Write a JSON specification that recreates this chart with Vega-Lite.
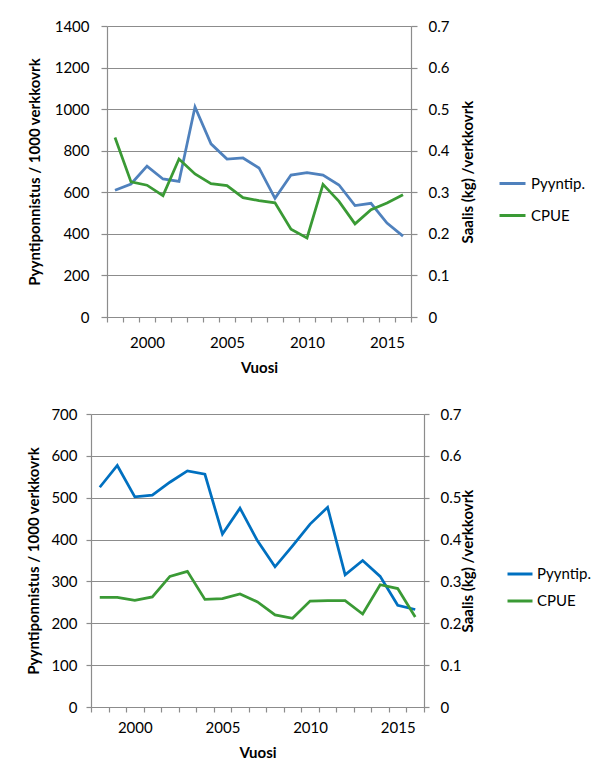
{
  "$schema": "https://vega.github.io/schema/vega-lite/v6.json",
  "background": "white",
  "padding": {"left": 26, "top": 19, "right": 0, "bottom": 0},
  "config": {
    "font": "Lato",
    "view": {"stroke": null},
    "axis": {
      "labelFont": "Lato", "titleFont": "Lato",
      "labelColor": "#000", "titleColor": "#000",
      "labelFontSize": 15, "titleFontSize": 15, "titleFontWeight": "bold",
      "domainColor": "#8c8c8c", "tickColor": "#8c8c8c", "gridColor": "#8c8c8c",
      "domainWidth": 1.2, "tickWidth": 1.2, "gridWidth": 1.2
    },
    "legend": {"labelFont": "Lato", "labelFontSize": 15, "labelColor": "#000"}
  },
  "datasets": {
    "top": [
      {"year": 1998, "pyyntip": 610, "cpue": 0.432},
      {"year": 1999, "pyyntip": 640, "cpue": 0.325},
      {"year": 2000, "pyyntip": 726, "cpue": 0.317},
      {"year": 2001, "pyyntip": 664, "cpue": 0.292},
      {"year": 2002, "pyyntip": 652, "cpue": 0.380},
      {"year": 2003, "pyyntip": 1010, "cpue": 0.344},
      {"year": 2004, "pyyntip": 833, "cpue": 0.321},
      {"year": 2005, "pyyntip": 760, "cpue": 0.316},
      {"year": 2006, "pyyntip": 765, "cpue": 0.287},
      {"year": 2007, "pyyntip": 717, "cpue": 0.280},
      {"year": 2008, "pyyntip": 571, "cpue": 0.2745},
      {"year": 2009, "pyyntip": 683, "cpue": 0.211},
      {"year": 2010, "pyyntip": 695, "cpue": 0.190},
      {"year": 2011, "pyyntip": 683, "cpue": 0.319},
      {"year": 2012, "pyyntip": 635, "cpue": 0.278},
      {"year": 2013, "pyyntip": 536, "cpue": 0.224},
      {"year": 2014, "pyyntip": 547, "cpue": 0.258},
      {"year": 2015, "pyyntip": 452, "cpue": 0.274},
      {"year": 2016, "pyyntip": 389, "cpue": 0.294}
    ],
    "bottom": [
      {"year": 1998, "pyyntip": 525, "cpue": 0.262},
      {"year": 1999, "pyyntip": 577, "cpue": 0.262},
      {"year": 2000, "pyyntip": 502, "cpue": 0.255},
      {"year": 2001, "pyyntip": 506, "cpue": 0.263},
      {"year": 2002, "pyyntip": 537, "cpue": 0.312},
      {"year": 2003, "pyyntip": 564, "cpue": 0.324},
      {"year": 2004, "pyyntip": 556, "cpue": 0.257},
      {"year": 2005, "pyyntip": 413, "cpue": 0.259},
      {"year": 2006, "pyyntip": 475, "cpue": 0.270},
      {"year": 2007, "pyyntip": 397, "cpue": 0.251},
      {"year": 2008, "pyyntip": 335, "cpue": 0.220},
      {"year": 2009, "pyyntip": 385, "cpue": 0.212},
      {"year": 2010, "pyyntip": 437, "cpue": 0.253},
      {"year": 2011, "pyyntip": 477, "cpue": 0.254},
      {"year": 2012, "pyyntip": 316, "cpue": 0.254},
      {"year": 2013, "pyyntip": 350, "cpue": 0.222},
      {"year": 2014, "pyyntip": 312, "cpue": 0.292},
      {"year": 2015, "pyyntip": 243, "cpue": 0.283},
      {"year": 2016, "pyyntip": 233, "cpue": 0.215}
    ]
  },
  "spacing": 32,
  "vconcat": [
    {
      "width": 304,
      "height": 291,
      "data": {"name": "top"},
      "encoding": {
        "x": {
          "field": "year", "type": "ordinal", "bandPosition": 0.5,
          "scale": {"type": "band", "paddingInner": 0, "paddingOuter": 0},
          "axis": {
            "title": "Vuosi", "labelAngle": 0, "tickBand": "extent", "tickSize": 5,
            "labelExpr": "datum.value % 5 === 0 ? datum.label : ''",
            "labelPadding": 13, "titlePadding": 10
          }
        }
      },
      "layer": [
        {
          "mark": {"type": "line", "strokeWidth": 2.75},
          "encoding": {
            "y": {
              "field": "pyyntip", "type": "quantitative",
              "scale": {"domain": [0, 1400]},
              "axis": {
                "title": "Pyyntiponnistus / 1000 verkkovrk",
                "values": [0, 200, 400, 600, 800, 1000, 1200, 1400],
                "format": "d",
                "grid": true, "tickSize": 6, "labelPadding": 12, "titlePadding": 12
              }
            },
            "color": {
              "datum": "Pyyntip.", "type": "nominal",
              "scale": {"domain": ["Pyyntip.", "CPUE"], "range": ["#4F81BD", "#3A9A35"]},
              "legend": {
                "title": null, "orient": "none", "legendX": 391, "legendY": 143,
                "symbolType": "stroke", "symbolSize": 676, "symbolStrokeWidth": 3,
                "labelOffset": 4, "rowPadding": 9
              }
            }
          }
        },
        {
          "mark": {"type": "line", "strokeWidth": 2.75},
          "encoding": {
            "y": {
              "field": "cpue", "type": "quantitative",
              "scale": {"domain": [0, 0.7]},
              "axis": {
                "orient": "right",
                "title": "Saalis (kg) /verkkovrk",
                "values": [0, 0.1, 0.2, 0.3, 0.4, 0.5, 0.6, 0.7],
                "format": ".1~f", "grid": false, "tickSize": 6, "labelPadding": 11,
                "titleAngle": 270, "titleBaseline": "top", "titleX": 49
              }
            },
            "color": {"datum": "CPUE", "type": "nominal"}
          }
        }
      ],
      "resolve": {"scale": {"y": "independent"}}
    },
    {
      "width": 317,
      "height": 293,
      "data": {"name": "bottom"},
      "encoding": {
        "x": {
          "field": "year", "type": "ordinal", "bandPosition": 0.5,
          "scale": {"type": "band", "paddingInner": 0, "paddingOuter": 0, "range": [-16, 317]},
          "axis": {
            "title": "Vuosi", "labelAngle": 0, "tickBand": "extent", "tickSize": 5,
            "labelExpr": "datum.value % 5 === 0 ? datum.label : ''",
            "labelPadding": 8, "titlePadding": 10
          }
        }
      },
      "layer": [
        {
          "mark": {"type": "line", "strokeWidth": 2.75},
          "encoding": {
            "y": {
              "field": "pyyntip", "type": "quantitative",
              "scale": {"domain": [0, 700]},
              "axis": {
                "title": "Pyyntiponnistus / 1000 verkkovrk",
                "values": [0, 100, 200, 300, 400, 500, 600, 700],
                "format": "d", "offset": 16,
                "grid": true, "tickSize": 5, "labelPadding": 9, "titlePadding": 9
              }
            },
            "color": {
              "datum": "Pyyntip.", "type": "nominal",
              "scale": {"domain": ["Pyyntip.", "CPUE"], "range": ["#0070C0", "#3A9A35"]},
              "legend": {
                "title": null, "orient": "none", "legendX": 399, "legendY": 146,
                "symbolType": "stroke", "symbolSize": 625, "symbolStrokeWidth": 3,
                "labelOffset": 3, "rowPadding": 5
              }
            }
          }
        },
        {
          "mark": {"type": "line", "strokeWidth": 2.75},
          "encoding": {
            "y": {
              "field": "cpue", "type": "quantitative",
              "scale": {"domain": [0, 0.7]},
              "axis": {
                "orient": "right",
                "title": "Saalis (kg) /verkkovrk",
                "values": [0, 0.1, 0.2, 0.3, 0.4, 0.5, 0.6, 0.7],
                "format": ".1~f", "grid": false, "tickSize": 5, "labelPadding": 11,
                "titleAngle": 270, "titleBaseline": "top", "titleX": 36
              }
            },
            "color": {"datum": "CPUE", "type": "nominal"}
          }
        }
      ],
      "resolve": {"scale": {"y": "independent"}}
    }
  ],
  "resolve": {"scale": {"color": "independent"}, "legend": {"color": "independent"}}
}
